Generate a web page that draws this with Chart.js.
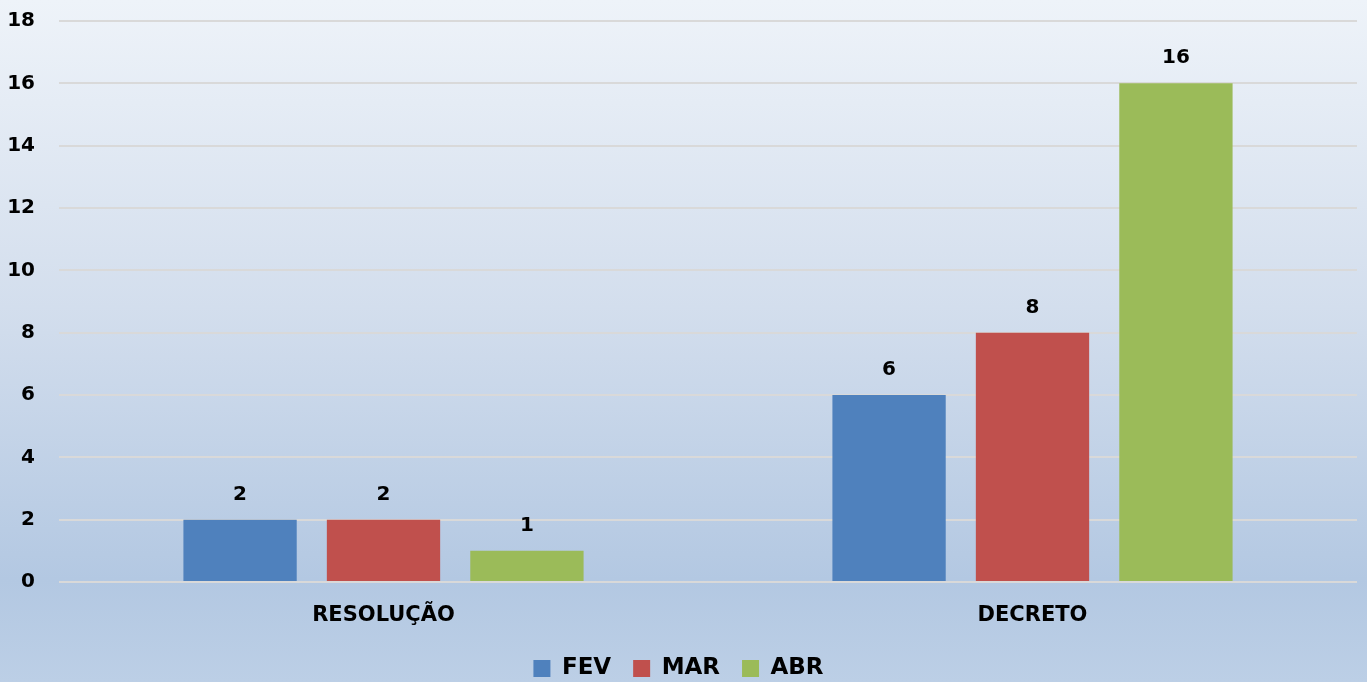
<!DOCTYPE html>
<html><head><meta charset="utf-8">
<script src="https://cdn.jsdelivr.net/npm/chart.js@4/dist/chart.umd.min.js"></script>
<style>
html,body{margin:0;padding:0;width:1367px;height:682px;overflow:hidden;}
body{background:linear-gradient(to bottom,#eef3f9 0%,#d3deed 45%,#b3c8e2 85%,#bccfe6 100%);}
#wrap{position:absolute;left:0;top:0;width:1367px;height:682px;}
</style></head>
<body><div id="wrap"><canvas id="c"></canvas></div>
<script>
const categories = ["RESOLUÇÃO", "DECRETO"];
const seriesNames = ["FEV", "MAR", "ABR"];
const fev = [2, 6];
const mar = [2, 8];
const abr = [1, 16];
const colors = ["#4f81bd", "#c0504d", "#9bbb59"];
const yTicks = [0, 2, 4, 6, 8, 10, 12, 14, 16, 18];

const FONT = "'DejaVu Sans', sans-serif";

const labelPlugin = {
  id: 'barLabels',
  afterDatasetsDraw(chart) {
    const ctx = chart.ctx;
    ctx.save();
    ctx.font = "bold 20px " + FONT;
    ctx.fillStyle = "#000";
    ctx.textAlign = "center";
    ctx.textBaseline = "alphabetic";
    chart.data.datasets.forEach((ds, i) => {
      chart.getDatasetMeta(i).data.forEach((bar, j) => {
        ctx.fillText(String(ds.data[j]), bar.x, bar.y - 20);
      });
    });
    ctx.restore();
  }
};

new Chart(document.getElementById('c'), {
  type: 'bar',
  data: {
    labels: categories,
    datasets: [
      {label: seriesNames[0], data: fev, backgroundColor: colors[0]},
      {label: seriesNames[1], data: mar, backgroundColor: colors[1]},
      {label: seriesNames[2], data: abr, backgroundColor: colors[2]}
    ]
  },
  options: {
    responsive: true,
    maintainAspectRatio: false,
    animation: false,
    layout: {padding: {top: 21, right: 10, left: 0, bottom: -8}},
    datasets: {bar: {categoryPercentage: 0.663, barPercentage: 0.79}},
    plugins: {
      legend: {
        position: 'bottom',
        labels: {
          font: {family: FONT, size: 23, weight: 'bold'},
          color: '#000',
          boxWidth: 17, boxHeight: 17,
          padding: 22
        }
      },
      tooltip: {enabled: false}
    },
    scales: {
      x: {
        afterFit: s => { s.height = 53; s.paddingLeft = 0; s.paddingRight = 0; },
        grid: {display: false, drawTicks: false},
        border: {display: false},
        ticks: {font: {family: FONT, size: 21, weight: 'bold'}, color: '#000', padding: 21}
      },
      y: {
        min: 0, max: 18,
        afterBuildTicks: s => { s.ticks = yTicks.map(v => ({value: v})); },
        afterFit: s => { s.width = 59; s.paddingTop = 0; s.paddingBottom = 0; },
        grid: {color: '#d9d9d9', lineWidth: 2, drawTicks: false},
        border: {display: false},
        ticks: {font: {family: FONT, size: 20, weight: 'bold'}, color: '#000', padding: 24}
      }
    }
  },
  plugins: [labelPlugin]
});
</script></body></html>
